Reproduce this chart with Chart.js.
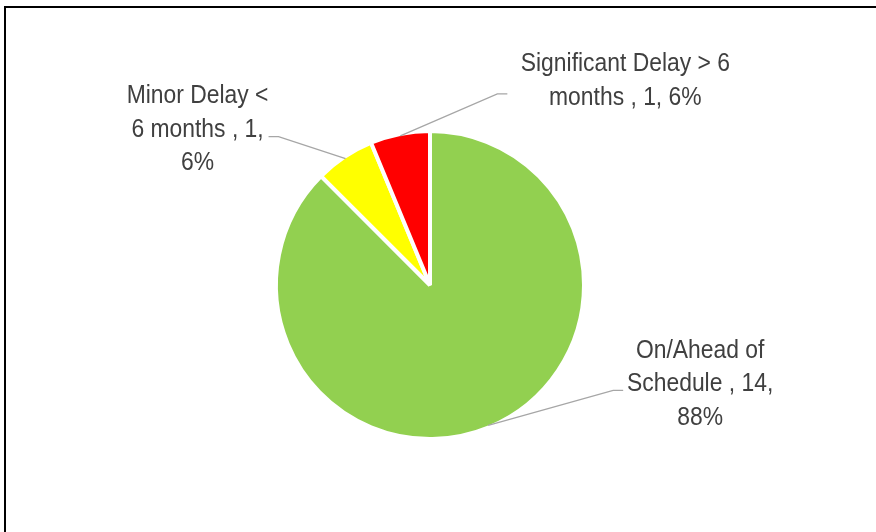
<!DOCTYPE html>
<html><head><meta charset="utf-8">
<script src="https://cdn.jsdelivr.net/npm/chart.js@4.4.1/dist/chart.umd.min.js"></script>
<style>
html,body{margin:0;padding:0;background:#fff;overflow:hidden}
#wrap{position:relative;width:876px;height:532px}
#frame{position:absolute;left:4px;top:6px;width:890px;height:540px;border-top:2px solid #000;border-left:2px solid #000;box-sizing:border-box;pointer-events:none}
canvas{position:absolute;left:0;top:0}
</style></head><body>
<div id="wrap"><canvas id="c" width="876" height="532"></canvas><div id="frame"></div></div>
<script>
// ---- data ----
const categories = ["On/Ahead of Schedule", "Minor Delay < 6 months", "Significant Delay > 6 months"];
const values = [14, 1, 1];
const colors = ["#92D050", "#FFFF00", "#FF0000"];

// ---- label layout (style only) ----
const BW = 4;
const FONT_PX = 25, SCALE_X = 0.915, LINE_H = 33.5;
const labelLayout = [
  { elbow: [125, -35], end: [135, -35], text: [212, -41], wrap: 165 },
  { elbow: [-67, -22], end: [-77, -22], text: [-148, -29], wrap: 148 },
  { elbow: [97, -42], end: [107, -42], text: [225, -55], wrap: 235 }
];

const total = values.reduce((a, b) => a + b, 0);

function wrapText(ctx, text, maxW) {
  const words = text.split(' ');
  const lines = []; let cur = '';
  for (const w of words) {
    const t = cur ? cur + ' ' + w : w;
    if (cur && ctx.measureText(t).width * SCALE_X > maxW) { lines.push(cur); cur = w; }
    else cur = t;
  }
  if (cur) lines.push(cur);
  return lines;
}

const labelPlugin = {
  id: 'pieLabels',
  afterDatasetsDraw(chart) {
    const ctx = chart.ctx;
    const meta = chart.getDatasetMeta(0);
    meta.data.forEach((arc, i) => {
      const p = arc.getProps(['x', 'y', 'startAngle', 'endAngle', 'outerRadius'], true);
      const mid = (p.startAngle + p.endAngle) / 2;
      const r = p.outerRadius - BW / 2;
      const sx = p.x + Math.cos(mid) * r, sy = p.y + Math.sin(mid) * r;
      const L = labelLayout[i];
      ctx.save();
      ctx.strokeStyle = '#A6A6A6';
      ctx.lineWidth = 1.3;
      ctx.beginPath();
      ctx.moveTo(sx, sy);
      ctx.lineTo(sx + L.elbow[0], sy + L.elbow[1]);
      ctx.lineTo(sx + L.end[0], sy + L.end[1]);
      ctx.stroke();
      ctx.font = FONT_PX + 'px "Liberation Sans", Arial, sans-serif';
      ctx.fillStyle = '#404040';
      ctx.textAlign = 'center';
      ctx.textBaseline = 'middle';
      const pct = Math.round(values[i] / total * 100) + '%';
      const txt = categories[i] + ' , ' + values[i] + ', ' + pct;
      const lines = wrapText(ctx, txt, L.wrap);
      const cx = sx + L.text[0], cy = sy + L.text[1];
      const y0 = cy - (lines.length - 1) * LINE_H / 2;
      lines.forEach((ln, k) => {
        ctx.save();
        ctx.translate(cx, y0 + k * LINE_H);
        ctx.scale(SCALE_X, 1);
        ctx.fillText(ln, 0, 0);
        ctx.restore();
      });
      ctx.restore();
    });
  }
};

new Chart(document.getElementById('c'), {
  type: 'pie',
  data: {
    labels: categories,
    datasets: [{
      data: values,
      backgroundColor: colors,
      borderColor: '#FFFFFF',
      borderWidth: BW
    }]
  },
  options: {
    responsive: false,
    animation: false,
    radius: 154,
    layout: { padding: { left: 100, right: 116, top: 100, bottom: 62 } },
    plugins: { legend: { display: false }, tooltip: { enabled: false } }
  },
  plugins: [labelPlugin]
});
</script>
</body></html>
